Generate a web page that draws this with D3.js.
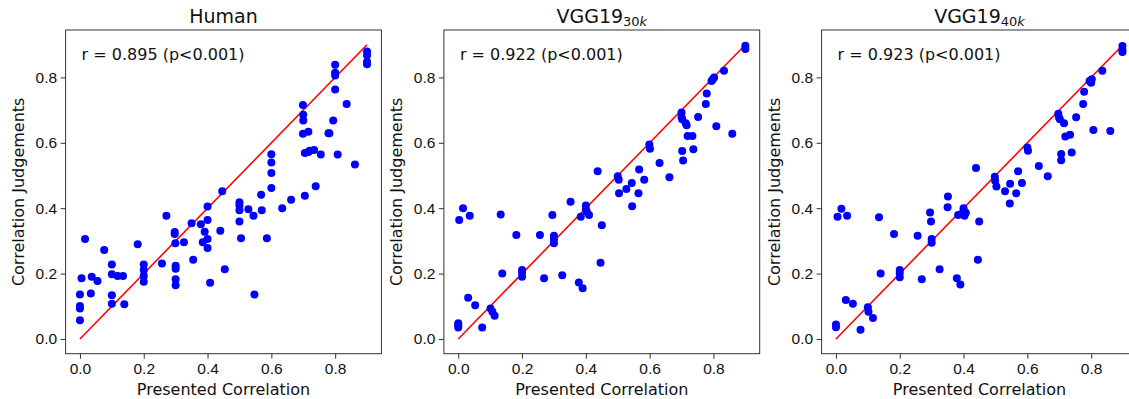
<!DOCTYPE html>
<html>
<head>
<meta charset="utf-8">
<script src="https://cdn.jsdelivr.net/npm/d3@7"></script>
<style>
  body { margin: 0; background: #fff; }
  svg { display: block; font-family: "DejaVu Sans", sans-serif; }
</style>
</head>
<body>
<script>
// values
var humanX = [0, 0, 0, 0, 0.005, 0.016, 0.034, 0.037, 0.055, 0.076, 0.1, 0.1, 0.1, 0.1, 0.118, 0.135, 0.139, 0.181,
  0.2, 0.2, 0.2, 0.2, 0.257, 0.271, 0.297, 0.297, 0.299, 0.3, 0.3, 0.3, 0.3, 0.326, 0.35, 0.355, 0.379, 0.391, 0.385,
  0.4, 0.4, 0.4, 0.4, 0.408, 0.44, 0.446, 0.454, 0.5, 0.5, 0.5, 0.5, 0.505, 0.528, 0.544, 0.547, 0.568, 0.57, 0.586,
  0.6, 0.6, 0.6, 0.6, 0.634, 0.662, 0.699, 0.7, 0.7, 0.699, 0.716, 0.705, 0.705, 0.716, 0.72, 0.734, 0.739, 0.755,
  0.779, 0.782, 0.794, 0.8, 0.8, 0.8, 0.8, 0.808, 0.836, 0.862, 0.9, 0.9, 0.9, 0.9]
var humanY = [0.057, 0.093, 0.101, 0.136, 0.186, 0.306, 0.139, 0.19, 0.177, 0.272, 0.228, 0.198, 0.134, 0.108, 0.193,
  0.193, 0.106, 0.29, 0.228, 0.211, 0.193, 0.175, 0.231, 0.377, 0.327, 0.321, 0.293, 0.224, 0.215, 0.183, 0.164,
  0.296, 0.354, 0.242, 0.351, 0.328, 0.296, 0.405, 0.364, 0.306, 0.278, 0.172, 0.331, 0.452, 0.213, 0.418, 0.408,
  0.394, 0.359, 0.308, 0.397, 0.377, 0.136, 0.441, 0.394, 0.308, 0.565, 0.54, 0.508, 0.462, 0.4, 0.426, 0.716,
  0.686, 0.668, 0.628, 0.634, 0.438, 0.569, 0.572, 0.576, 0.578, 0.467, 0.564, 0.629, 0.629, 0.668, 0.839, 0.814,
  0.806, 0.763, 0.564, 0.719, 0.534, 0.879, 0.868, 0.848, 0.84]

var vgg30X = [0, 0, 0, 0.003, 0.015, 0.036, 0.031, 0.053, 0.075, 0.101, 0.107, 0.114, 0.133, 0.138, 0.182, 0.2, 0.2,
  0.2, 0.256, 0.269, 0.295, 0.3, 0.3, 0.3, 0.326, 0.352, 0.378, 0.39, 0.384, 0.4, 0.4, 0.403, 0.41, 0.437, 0.45,
  0.446, 0.5, 0.503, 0.504, 0.527, 0.544, 0.545, 0.565, 0.567, 0.583, 0.599, 0.601, 0.631, 0.662, 0.7, 0.7, 0.702,
  0.713, 0.716, 0.719, 0.734, 0.702, 0.737, 0.705, 0.752, 0.776, 0.779, 0.794, 0.798, 0.802, 0.809, 0.833, 0.859,
  0.9, 0.9]
var vgg30Y = [0.048, 0.042, 0.035, 0.364, 0.4, 0.377, 0.126, 0.103, 0.035, 0.093, 0.083, 0.071, 0.381, 0.2, 0.318,
  0.211, 0.203, 0.19, 0.318, 0.186, 0.379, 0.316, 0.306, 0.293, 0.195, 0.42, 0.173, 0.155, 0.374, 0.408, 0.397,
  0.389, 0.379, 0.513, 0.348, 0.233, 0.498, 0.487, 0.446, 0.459, 0.477, 0.406, 0.446, 0.518, 0.487, 0.595, 0.582,
  0.538, 0.495, 0.693, 0.678, 0.672, 0.66, 0.654, 0.621, 0.621, 0.575, 0.58, 0.546, 0.679, 0.719, 0.751, 0.789,
  0.794, 0.8, 0.651, 0.82, 0.628, 0.897, 0.887]

var vgg40X = [0, 0, 0.005, 0.017, 0.035, 0.031, 0.053, 0.077, 0.1, 0.102, 0.116, 0.135, 0.14, 0.182, 0.2, 0.2, 0.2,
  0.256, 0.269, 0.295, 0.298, 0.3, 0.3, 0.325, 0.351, 0.35, 0.379, 0.39, 0.383, 0.393, 0.4, 0.403, 0.407, 0.439,
  0.449, 0.445, 0.498, 0.499, 0.503, 0.53, 0.546, 0.545, 0.565, 0.571, 0.583, 0.6, 0.602, 0.636, 0.664, 0.697,
  0.699, 0.702, 0.715, 0.719, 0.734, 0.706, 0.739, 0.706, 0.753, 0.775, 0.778, 0.795, 0.8, 0.802, 0.807, 0.835,
  0.86, 0.898, 0.898, 0.898]
var vgg40Y = [0.044, 0.036, 0.374, 0.398, 0.377, 0.119, 0.108, 0.028, 0.097, 0.083, 0.064, 0.372, 0.2, 0.321, 0.211,
  0.202, 0.189, 0.316, 0.183, 0.387, 0.359, 0.306, 0.294, 0.213, 0.436, 0.403, 0.186, 0.167, 0.379, 0.382, 0.4,
  0.377, 0.386, 0.523, 0.359, 0.242, 0.496, 0.484, 0.466, 0.452, 0.475, 0.414, 0.446, 0.513, 0.477, 0.586, 0.576,
  0.529, 0.498, 0.689, 0.678, 0.672, 0.66, 0.619, 0.625, 0.566, 0.57, 0.547, 0.678, 0.719, 0.756, 0.789, 0.784,
  0.794, 0.639, 0.82, 0.636, 0.896, 0.884, 0.878]

var titles = ["Human", "VGG19", "VGG19"]
var subscripts = [null, "30", "40"]
var rTexts = ["r = 0.895 (p<0.001)", "r = 0.922 (p<0.001)", "r = 0.923 (p<0.001)"]
var tickValues = [0, 0.2, 0.4, 0.6, 0.8]
var identityLine = [0, 0.9]

var panels = [
  { xs: humanX, ys: humanY },
  { xs: vgg30X, ys: vgg30Y },
  { xs: vgg40X, ys: vgg40Y }
]

;(function() {
  var svg = d3.select("body").append("svg")
    .attr("width", 1129)
    .attr("height", 399)

  var lefts = [65.6, 443.9, 821.6]
  var pw = 315.8, plotTop = 30, plotBottom = 353.7

  panels.forEach(function(p, i) {
    var x = d3.scaleLinear().domain([-0.045, 0.945]).range([lefts[i], lefts[i] + pw])
    var y = d3.scaleLinear().domain([-0.045, 0.945]).range([plotBottom, plotTop])
    var g = svg.append("g")

    // axes
    var xAxis = g.append("g")
      .attr("transform", "translate(0," + plotBottom + ")")
      .call(d3.axisBottom(x).tickValues(tickValues).tickFormat(d3.format(".1f")).tickSizeOuter(0).tickSize(5).tickPadding(4))
    var yAxis = g.append("g")
      .attr("transform", "translate(" + lefts[i] + ",0)")
      .call(d3.axisLeft(y).tickValues(tickValues).tickFormat(d3.format(".1f")).tickSizeOuter(0).tickSize(5).tickPadding(3.5))
    ;[xAxis, yAxis].forEach(function(a) {
      a.select(".domain").remove()
      a.selectAll("text").style("font-size", "15.5px").attr("fill", "#111")
      a.selectAll("line").attr("stroke", "#333").attr("stroke-width", 1)
    })

    // identity line
    g.append("line")
      .attr("x1", x(identityLine[0])).attr("y1", y(identityLine[0]))
      .attr("x2", x(identityLine[1])).attr("y2", y(identityLine[1]))
      .attr("stroke", "#ff0000")
      .attr("stroke-width", 1.6)

    // points
    g.append("g").selectAll("circle")
      .data(p.xs)
      .enter().append("circle")
      .attr("cx", function(d) { return x(d) })
      .attr("cy", function(d, j) { return y(p.ys[j]) })
      .attr("r", 4)
      .attr("fill", "#0000ff")

    // frame
    g.append("rect")
      .attr("x", lefts[i]).attr("y", plotTop)
      .attr("width", pw).attr("height", plotBottom - plotTop)
      .attr("fill", "none")
      .attr("stroke", "#333")
      .attr("stroke-width", 1)

    // r annotation
    g.append("text")
      .attr("x", lefts[i] + 16)
      .attr("y", 59.5)
      .attr("fill", "#111")
      .style("font-size", "16px")
      .text(rTexts[i])

    // title
    var t = g.append("text")
      .attr("x", lefts[i] + pw / 2)
      .attr("y", 23)
      .attr("text-anchor", "middle")
      .attr("fill", "#111")
      .style("font-size", "19px")
      .text(titles[i])
    if (subscripts[i]) {
      t.append("tspan")
        .attr("dy", 3)
        .style("font-size", "13px")
        .text(subscripts[i])
      t.append("tspan")
        .style("font-size", "13px")
        .style("font-style", "italic")
        .text("k")
    }

    // axis labels
    g.append("text")
      .attr("x", lefts[i] + pw / 2)
      .attr("y", 394.5)
      .attr("text-anchor", "middle")
      .attr("fill", "#111")
      .style("font-size", "16px")
      .text("Presented Correlation")
    g.append("text")
      .attr("transform", "translate(" + (lefts[i] - 41.5) + "," + ((plotTop + plotBottom) / 2) + ") rotate(-90)")
      .attr("text-anchor", "middle")
      .attr("fill", "#111")
      .style("font-size", "16px")
      .text("Correlation Judgements")
  })
})()
</script>
</body>
</html>
